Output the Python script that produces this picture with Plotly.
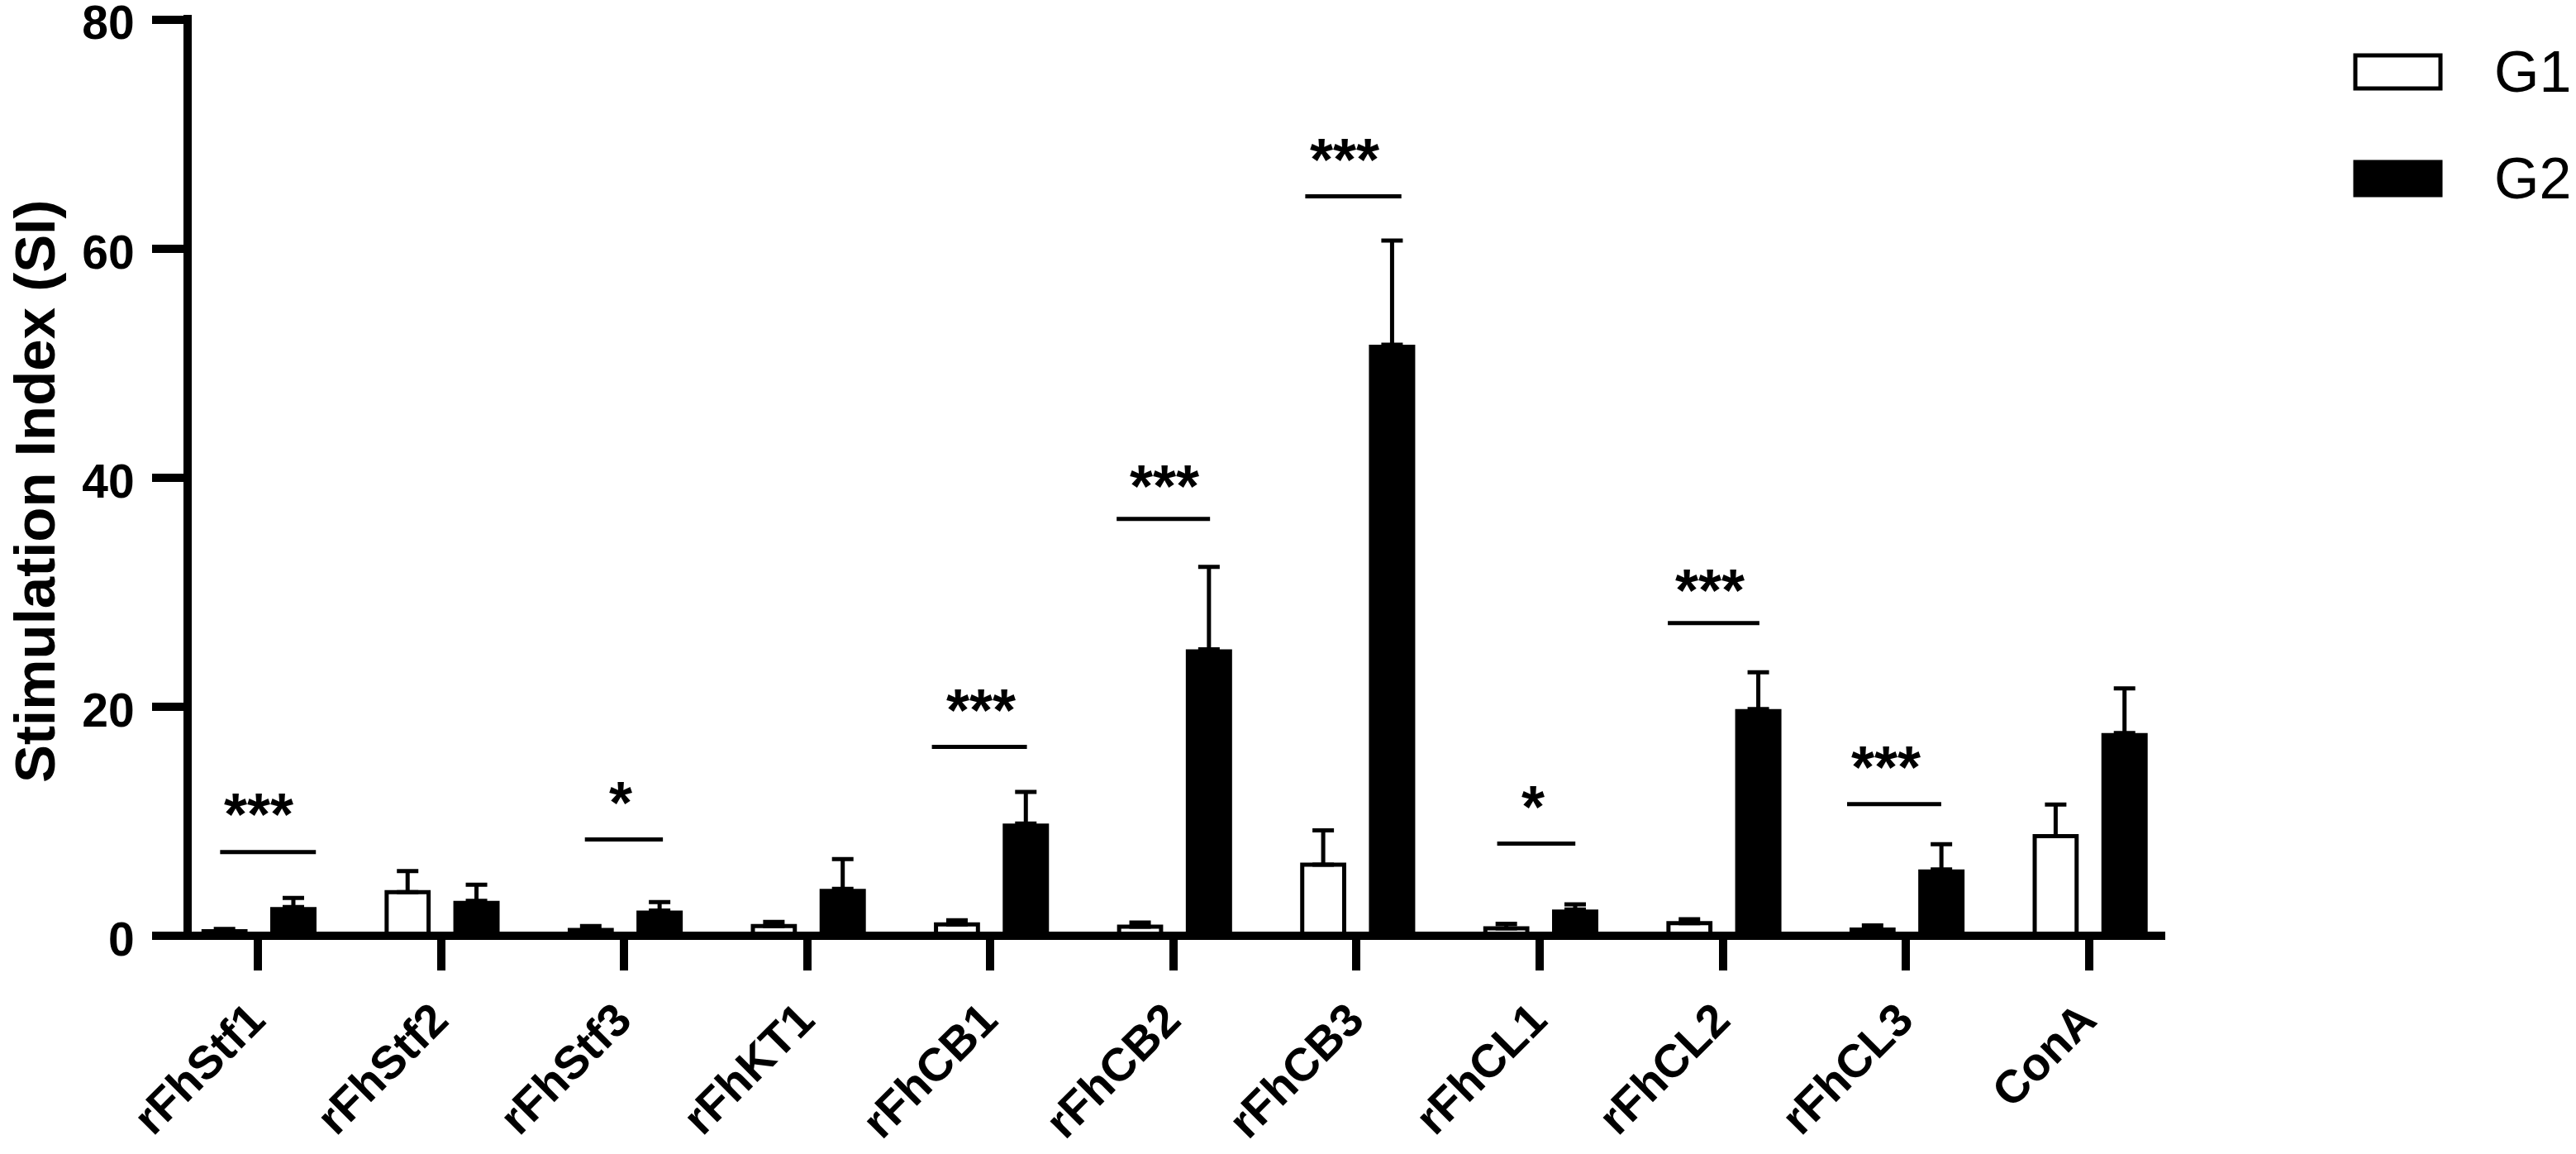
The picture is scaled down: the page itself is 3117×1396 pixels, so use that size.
import plotly.graph_objects as go

# ---------------- data ----------------
categories = ["rFhStf1", "rFhStf2", "rFhStf3", "rFhKT1", "rFhCB1", "rFhCB2",
              "rFhCB3", "rFhCL1", "rFhCL2", "rFhCL3", "ConA"]
series_names = ["G1", "G2"]
g1_mean = [0.4, 3.8, 0.5, 0.85, 1.0, 0.8, 6.2, 0.65, 1.1, 0.55, 8.7]
g1_sem = [0.2, 1.85, 0.35, 0.35, 0.35, 0.35, 3.0, 0.4, 0.35, 0.35, 2.75]
g2_mean = [2.5, 3.05, 2.2, 4.1, 9.8, 25.0, 51.6, 2.3, 19.8, 5.8, 17.7]
g2_sem = [0.8, 1.4, 0.75, 2.6, 2.75, 7.2, 9.1, 0.45, 3.2, 2.2, 3.9]

# significance marks: category, label, bar level, star level
sig_cat = ["rFhStf1", "rFhStf3", "rFhCB1", "rFhCB2", "rFhCB3", "rFhCL1", "rFhCL2", "rFhCL3"]
sig_label = ["***", "*", "***", "***", "***", "*", "***", "***"]
sig_line_y = [7.3, 8.4, 16.5, 36.4, 64.55, 8.05, 27.3, 11.5]
sig_text_y = [11.1, 12.15, 20.2, 39.8, 68.3, 11.8, 30.7, 15.25]
y_tick_vals = [0, 20, 40, 60, 80]
y_title = "Stimulation Index (SI)"

# ---------------- layout geometry (pixels) ----------------
W, H = 3117, 1396
L, R, T, B = 232, 2620, 18, 1132
PW, PH = R - L, B - T
x_range = [-0.361, 10.4165]
y_range = [0, 80.4]

xi = list(range(len(categories)))

# significance line extents (offsets from category centre) and star x offsets
sig_x0 = [-0.206, -0.214, -0.319, -0.31, -0.28, -0.232, -0.30, -0.321]
sig_x1 = [0.317, 0.212, 0.20, 0.20, 0.245, 0.195, 0.20, 0.193]
sig_tx = [0.005, -0.018, -0.05, -0.05, -0.065, -0.038, -0.07, -0.11]

FONT = "Liberation Sans, Arial, sans-serif"

fig = go.Figure()
fig.add_trace(go.Bar(
    x=xi, y=g1_mean, name=series_names[0], width=0.229, offset=-0.2965,
    marker=dict(color="white", line=dict(color="black", width=5)),
    error_y=dict(type="data", array=g1_sem, arrayminus=[0] * len(g1_sem), symmetric=False,
                 color="black", thickness=5, width=13),
    showlegend=False,
))
fig.add_trace(go.Bar(
    x=xi, y=g2_mean, name=series_names[1], width=0.2527, offset=0.0677,
    marker=dict(color="black", line=dict(color="black", width=0)),
    error_y=dict(type="data", array=g2_sem, arrayminus=[0] * len(g2_sem), symmetric=False,
                 color="black", thickness=5, width=13),
    showlegend=False,
))

shapes = []
annotations = []

# x-axis line (extends left to act as the 0 tick)
shapes.append(dict(type="line", xref="paper", yref="paper",
                   x0=(184 - L) / PW, x1=1.0, y0=0, y1=0,
                   line=dict(color="black", width=10), layer="above"))

for c, lab, ly, ty, a0, a1, tx in zip(sig_cat, sig_label, sig_line_y, sig_text_y,
                                        sig_x0, sig_x1, sig_tx):
    i = categories.index(c)
    shapes.append(dict(type="line", xref="x", yref="y", x0=i + a0, x1=i + a1,
                       y0=ly, y1=ly, line=dict(color="black", width=5)))
    annotations.append(dict(x=i + tx, y=ty, xref="x", yref="y", text=lab,
                            showarrow=False, xanchor="center", yanchor="middle",
                            yshift=-7,
                            font=dict(family=FONT, size=72, color="black", weight="bold")))

# y-axis title
annotations.append(dict(x=(42 - L) / PW, y=(B - 595) / PH, xref="paper", yref="paper",
                        text="<b>" + y_title + "</b>", textangle=-90, showarrow=False,
                        xanchor="center", yanchor="middle",
                        font=dict(family=FONT, size=69, color="black")))

# custom legend
leg_rows = [87, 216]
for name, yc, fill in zip(series_names, leg_rows, ["white", "black"]):
    shapes.append(dict(type="rect", xref="paper", yref="paper",
                       x0=(2850 - L) / PW, x1=(2953 - L) / PW,
                       y0=(B - (yc + 20)) / PH, y1=(B - (yc - 20)) / PH,
                       fillcolor=fill, line=dict(color="black", width=5)))
    annotations.append(dict(x=(3016 - L) / PW, y=(B - yc) / PH, xref="paper", yref="paper",
                            text=name, showarrow=False, xanchor="left", yanchor="middle",
                            font=dict(family=FONT, size=70, color="black")))

fig.update_layout(
    template="none",
    width=W, height=H,
    margin=dict(l=L, r=W - R, t=T, b=H - B, pad=0),
    paper_bgcolor="white", plot_bgcolor="white",
    barmode="overlay",
    showlegend=False,
    shapes=shapes, annotations=annotations,
    font=dict(family=FONT, color="black"),
    xaxis=dict(range=x_range, tickmode="array", tickvals=xi, ticktext=categories,
               automargin=False, ticklabeloverflow="allow",
               showgrid=False, zeroline=False, showline=False,
               ticks="outside", ticklen=41, tickwidth=10, tickcolor="black",
               tickangle=-45, ticklabelstandoff=4, ticklabelshift=-8,
               tickfont=dict(family=FONT, size=56, color="black", weight="bold")),
    yaxis=dict(range=y_range, tickmode="array", tickvals=y_tick_vals,
               automargin=False, ticklabeloverflow="allow",
               showgrid=False, zeroline=False, showline=True, linewidth=10, linecolor="black",
               ticks="outside", ticklen=38, tickwidth=10, tickcolor="black",
               ticklabelstandoff=10, ticklabelshift=4,
               tickfont=dict(family=FONT, size=57, color="black", weight="bold")),
)

fig.write_html("out.html", config={"displayModeBar": False},
               post_script="document.body.style.margin='0';document.body.style.overflow='hidden';")
